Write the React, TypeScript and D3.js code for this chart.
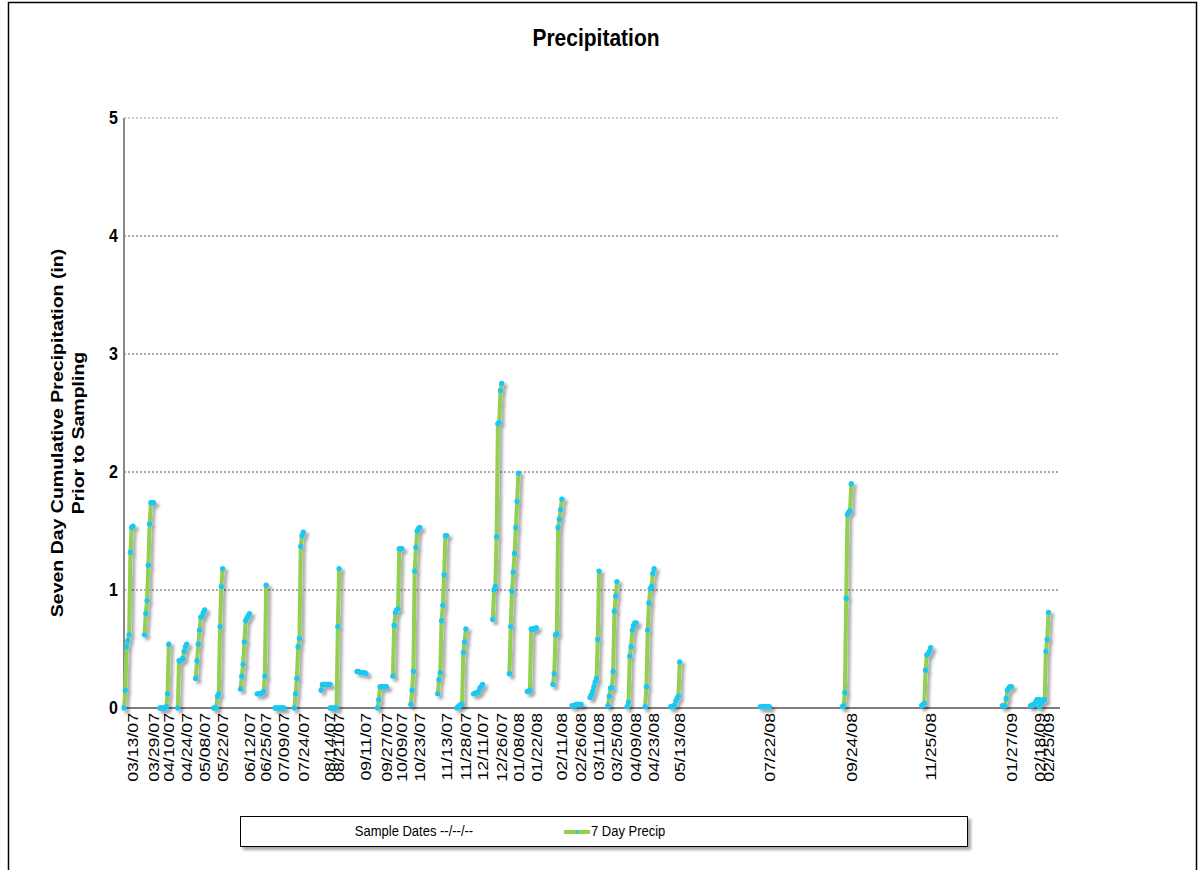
import * as d3 from "d3";

// sample dates and the 7 daily cumulative values leading up to each one
const sampleDates = [
  "03/13/07", "03/29/07", "04/10/07", "04/24/07", "05/08/07", "05/22/07",
  "06/12/07", "06/25/07", "07/09/07", "07/24/07", "08/14/07", "08/21/07",
  "09/11/07", "09/27/07", "10/09/07", "10/23/07", "11/13/07", "11/28/07",
  "12/11/07", "12/26/07", "01/08/08", "01/22/08", "02/11/08", "02/26/08",
  "03/11/08", "03/25/08", "04/09/08", "04/23/08", "05/13/08", "07/22/08",
  "09/24/08", "11/25/08", "01/27/09", "02/18/09", "02/25/09",
];

const precip7Day = [
  [0, 0.15, 0.52, 0.57, 0.62, 1.32, 1.53, 1.54],
  [0.62, 0.8, 0.91, 1.21, 1.56, 1.74, 1.74, 1.74],
  [0, 0, 0, 0, 0, 0.01, 0.12, 0.54],
  [0, 0.4, 0.4, 0.41, 0.42, 0.48, 0.52, 0.54],
  [0.25, 0.4, 0.54, 0.66, 0.77, 0.78, 0.81, 0.83],
  [0, 0, 0, 0.1, 0.12, 0.69, 1.03, 1.18],
  [0.16, 0.27, 0.37, 0.56, 0.74, 0.76, 0.78, 0.8],
  [0.12, 0.12, 0.12, 0.12, 0.13, 0.14, 0.27, 1.04],
  [0, 0, 0, 0, 0, 0, 0, 0],
  [0, 0.12, 0.25, 0.52, 0.59, 1.37, 1.46, 1.49],
  [0.15, 0.2, 0.2, 0.2, 0.2, 0.2, 0.2, 0.2],
  [0, 0, 0, 0, 0, 0, 0.69, 1.18],
  [0.31, 0.31, 0.3, 0.3, 0.3, 0.3, 0.3, 0.29],
  [0, 0.07, 0.18, 0.18, 0.18, 0.18, 0.18, 0.18],
  [0.27, 0.7, 0.81, 0.83, 0.84, 1.35, 1.35, 1.35],
  [0.03, 0.15, 0.31, 1.16, 1.36, 1.5, 1.52, 1.53],
  [0.12, 0.24, 0.3, 0.74, 0.87, 1.13, 1.46, 1.46],
  [0, 0.01, 0.02, 0.03, 0.03, 0.47, 0.56, 0.67],
  [0.12, 0.12, 0.13, 0.13, 0.14, 0.17, 0.18, 0.2],
  [0.75, 1.0, 1.03, 1.45, 2.41, 2.42, 2.69, 2.75],
  [0.29, 0.69, 0.99, 1.15, 1.31, 1.53, 1.75, 1.99],
  [0.14, 0.14, 0.15, 0.67, 0.67, 0.67, 0.67, 0.68],
  [0.2, 0.29, 0.62, 0.63, 1.53, 1.6, 1.68, 1.77],
  [0.02, 0.02, 0.02, 0.03, 0.03, 0.03, 0.03, 0.03],
  [0.09, 0.11, 0.14, 0.18, 0.22, 0.25, 0.58, 1.16],
  [0.02, 0.1, 0.17, 0.17, 0.31, 0.82, 0.95, 1.07],
  [0.01, 0.05, 0.44, 0.52, 0.66, 0.7, 0.72, 0.72],
  [0.01, 0.18, 0.66, 0.89, 1.01, 1.03, 1.14, 1.18],
  [0.01, 0.01, 0.02, 0.02, 0.06, 0.08, 0.1, 0.39],
  [0.01, 0.01, 0.01, 0.01, 0.01, 0.01, 0.01, 0.01],
  [0.01, 0.02, 0.13, 0.93, 1.64, 1.66, 1.67, 1.9],
  [0.02, 0.03, 0.04, 0.32, 0.45, 0.46, 0.48, 0.51],
  [0.02, 0.02, 0.02, 0.08, 0.15, 0.17, 0.18, 0.18],
  [0.02, 0.02, 0.03, 0.03, 0.05, 0.07, 0.07, 0.07],
  [0.01, 0.04, 0.05, 0.07, 0.07, 0.48, 0.58, 0.81],
];

const yTicks = [0, 1, 2, 3, 4, 5];

type Pt = { date: Date; value: number };

const parse = d3.timeParse("%m/%d/%y");
const font = "Arial, 'Liberation Sans', sans-serif";
const green = "#92D050";
const cyan = "#1EC8F2";
const SY = 1.18; // the reference looks a bit stretched vertically

export default function App() {
  const x = d3
    .scaleTime()
    .domain([new Date(2007, 2, 6), new Date(2009, 2, 6)])
    .range([124, 1060]);
  const y = d3.scaleLinear().domain([0, 5]).range([708, 118]);

  const series: Pt[][] = sampleDates.map((s, i) => {
    const end = parse(s)!;
    return precip7Day[i].map((v, k) => ({
      date: d3.timeDay.offset(end, k - 7),
      value: v,
    }));
  });

  const line = d3
    .line<Pt>()
    .x((d) => x(d.date))
    .y((d) => y(d.value));

  return (
    <svg
      width={1199}
      height={870}
      style={{ position: "absolute", left: 0, top: 0, display: "block" }}
      fontFamily={font}
    >
      <defs>
        <filter id="shadow" x="-50%" y="-10%" width="200%" height="130%">
          <feDropShadow dx="3" dy="3" stdDeviation="1.5" floodColor="#000" floodOpacity="0.35" />
        </filter>
      </defs>
      <rect x={0} y={0} width={1199} height={870} fill="#fff" />
      <rect x={8.5} y={2.5} width={1188} height={900} fill="none" stroke="#000" strokeWidth={1.5} />

      {/* title */}
      <text
        transform={`translate(596,46) scale(1,${SY})`}
        textAnchor="middle"
        fontSize={21}
        fontWeight="bold"
      >
        Precipitation
      </text>

      {/* gridlines */}
      {yTicks.slice(1).map((t) => (
        <line
          key={t}
          x1={124}
          x2={1060}
          y1={y(t)}
          y2={y(t)}
          stroke={t === 5 ? "#999" : "#555"}
          strokeDasharray="2,2"
          strokeWidth={1}
        />
      ))}

      {/* y tick labels */}
      {yTicks.map((t) => (
        <text
          key={t}
          transform={`translate(118,${y(t) + 6}) scale(1,${SY})`}
          textAnchor="end"
          fontSize={16}
          fontWeight="bold"
        >
          {t}
        </text>
      ))}

      {/* axes */}
      <line x1={124} x2={124} y1={118} y2={708} stroke="#888" strokeWidth={2} />
      <line x1={124} x2={1060} y1={708} y2={708} stroke="#555" strokeWidth={1.5} />

      {/* y axis title */}
      <g fontSize={16} fontWeight="bold" textAnchor="middle">
        <text transform={`translate(63,433) rotate(-90) scale(1.22,1)`}>
          Seven Day Cumulative Precipitation (in)
        </text>
        <text transform={`translate(84,433) rotate(-90) scale(1.22,1)`}>
          Prior to Sampling
        </text>
      </g>

      {/* x tick labels at the sample dates */}
      {sampleDates.map((s) => (
        <text
          key={s}
          transform={`translate(${x(parse(s)!)},713) rotate(-90) scale(${SY},1)`}
          textAnchor="end"
          dy="0.35em"
          fontSize={15}
        >
          {s}
        </text>
      ))}

      {/* series */}
      <g filter="url(#shadow)">
        {series.map((pts, i) => (
          <path
            key={i}
            d={line(pts)!}
            fill="none"
            stroke={green}
            strokeWidth={4}
            strokeLinejoin="round"
            strokeLinecap="round"
          />
        ))}
        {series.map((pts, i) =>
          pts.map((p, k) => (
            <circle key={`${i}-${k}`} cx={x(p.date)} cy={y(p.value)} r={2.7} fill={cyan} />
          ))
        )}
      </g>

      {/* legend */}
      <rect
        x={240.5}
        y={816.5}
        width={727}
        height={30}
        fill="#fff"
        stroke="#000"
        strokeWidth={1}
        filter="url(#shadow)"
      />
      <g fontSize={13}>
        <text transform={`translate(414,836) scale(1,${SY})`} textAnchor="middle">
          Sample Dates --/--/--
        </text>
        <line x1={564} x2={590} y1={832} y2={832} stroke={green} strokeWidth={4} />
        <circle cx={577} cy={832} r={1.8} fill={cyan} />
        <text transform={`translate(591,836) scale(1,${SY})`}>7 Day Precip</text>
      </g>
    </svg>
  );
}
